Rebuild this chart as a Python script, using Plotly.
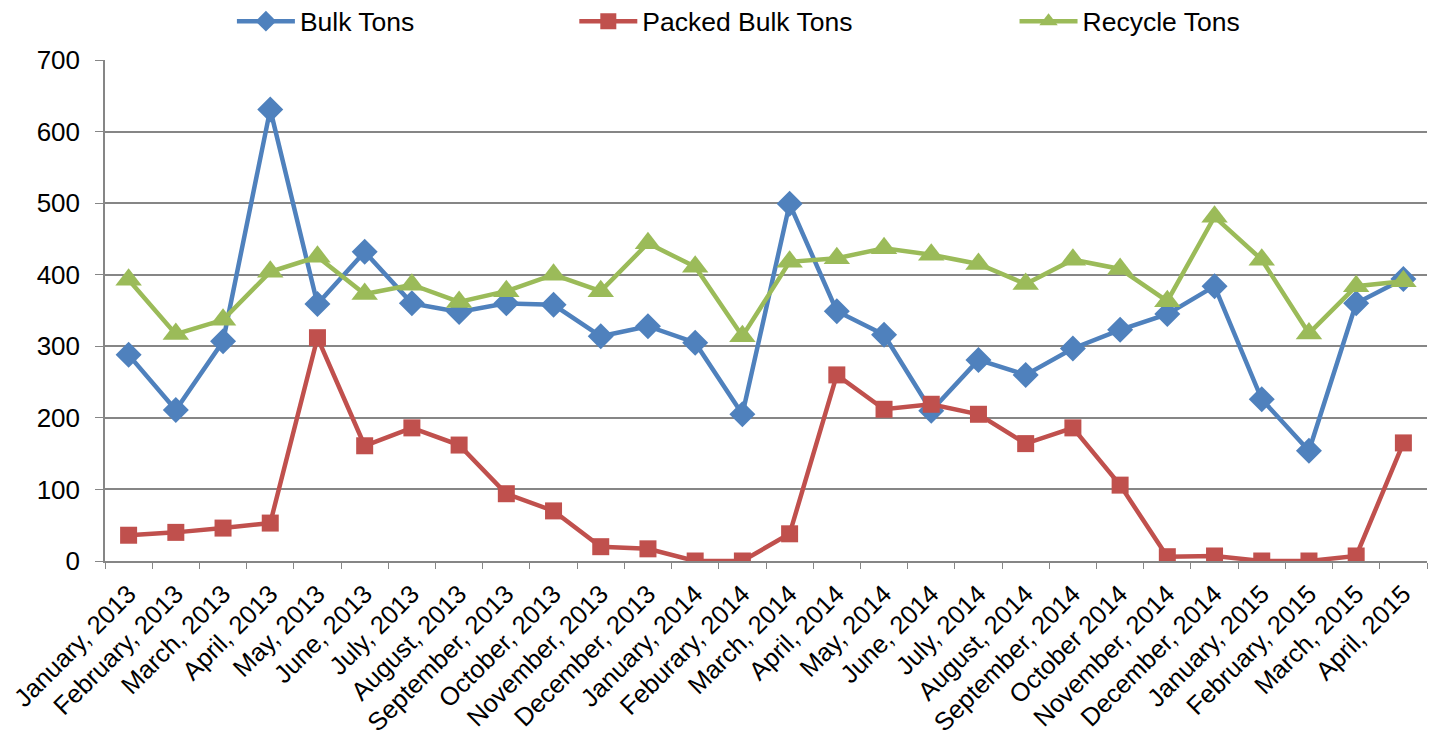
import plotly.graph_objects as go

months = [
    "January, 2013", "February, 2013", "March, 2013", "April, 2013", "May, 2013",
    "June, 2013", "July, 2013", "August, 2013", "September, 2013", "October, 2013",
    "November, 2013", "December, 2013", "January, 2014", "Feburary, 2014",
    "March, 2014", "April, 2014", "May, 2014", "June, 2014", "July, 2014",
    "August, 2014", "September, 2014", "October 2014", "November, 2014",
    "December, 2014", "January, 2015", "February, 2015", "March, 2015", "April, 2015",
]

bulk_tons = [288, 211, 307, 631, 359, 432, 360, 348, 360, 358, 314, 328, 305, 205,
             499, 349, 316, 210, 281, 260, 297, 323, 345, 384, 226, 154, 360, 394]
packed_bulk_tons = [36, 40, 46, 53, 312, 161, 186, 162, 94, 70, 20, 17, 0, 0,
                    38, 260, 212, 219, 205, 164, 186, 106, 6, 7, 0, 0, 7, 165]
recycle_tons = [393, 317, 337, 404, 425, 373, 386, 362, 377, 400, 377, 444, 411, 314,
                418, 423, 437, 428, 415, 387, 421, 408, 363, 481, 421, 318, 384, 391]

y_ticks = [0, 100, 200, 300, 400, 500, 600, 700]

FONT = "Liberation Sans, Arial, sans-serif"
GRID = "#868686"

fig = go.Figure()

series = [
    ("Bulk Tons", bulk_tons, "#4F81BD", "diamond", 20, "legend"),
    ("Packed Bulk Tons", packed_bulk_tons, "#C0504D", "square", 17, "legend2"),
    ("Recycle Tons", recycle_tons, "#9BBB59", "triangle-up", 23, "legend3"),
]
for name, vals, color, sym, size, leg in series:
    fig.add_trace(go.Scatter(
        x=months, y=vals, name=name, mode="lines+markers",
        line=dict(color=color, width=4.5),
        marker=dict(symbol=sym, size=size, color=color),
        legend=leg, showlegend=True,
    ))

legend_common = dict(
    orientation="h", yanchor="middle", y=1.077, xanchor="left",
    font=dict(family=FONT, size=26.5, color="#000000"),
    bgcolor="rgba(0,0,0,0)", itemwidth=58, visible=True,
)

fig.update_layout(
    width=1435, height=740,
    showlegend=True,
    margin=dict(l=105, r=8, t=60, b=179, autoexpand=False),
    plot_bgcolor="white", paper_bgcolor="white",
    font=dict(family=FONT, size=26, color="#000000"),
    legend=dict(x=0.096, **legend_common),
    legend2=dict(x=0.355, **legend_common),
    legend3=dict(x=0.688, **legend_common),
    xaxis=dict(
        type="category", range=[-0.5, len(months) - 0.5],
        tickangle=-45, tickson="boundaries", ticks="outside", ticklen=6,
        tickcolor=GRID, showline=True, linecolor=GRID, linewidth=1.5,
        showgrid=False, automargin=False, ticklabelstandoff=6,
        tickfont=dict(family=FONT, size=25.5, color="#000000"),
    ),
    yaxis=dict(
        range=[0, 700], tickvals=y_ticks, ticks="outside", ticklen=8,
        tickcolor=GRID, showline=True, linecolor=GRID, linewidth=1.5,
        showgrid=True, gridcolor=GRID, gridwidth=1.5, zeroline=False,
        automargin=False, ticklabelstandoff=10,
        tickfont=dict(family=FONT, size=26, color="#000000"),
    ),
)

fig.write_html("out.html")
